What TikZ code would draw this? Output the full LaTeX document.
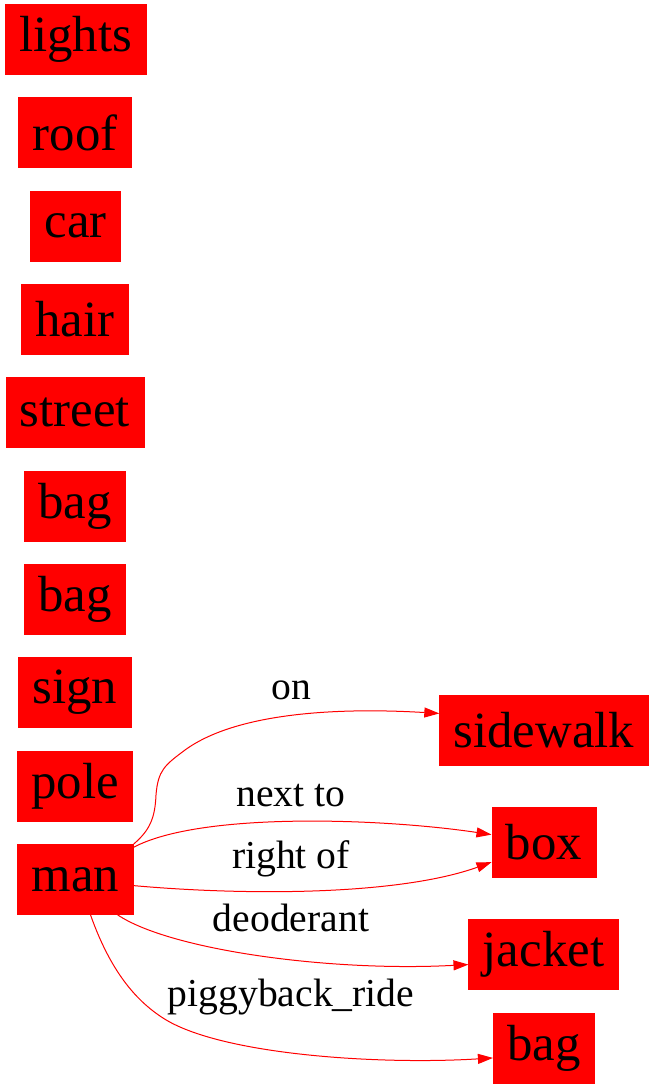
\documentclass[tikz,border=0pt]{standalone}
\usepackage{fontspec}
\setmainfont{Liberation Serif}
\usetikzlibrary{arrows.meta,positioning}
\definecolor{boxred}{HTML}{FF0000}

\begin{document}
\begin{tikzpicture}[
      x=0.5pt, y=-0.5pt,
      obj/.style={
        draw=boxred, fill=boxred, inner xsep=7pt, inner ysep=0pt,
        minimum height=35pt, font=\fontsize{25.4}{30}\selectfont
      },
      rel/.style={font=\fontsize{19.8}{24}\selectfont, inner sep=0pt},
      arrow/.style={-{Triangle[length=7.5pt,width=5pt]}, line width=0.5pt, draw=boxred}
    ]
    \useasboundingbox (0,0) rectangle (655,1088);

    % left column
    \node[obj] (lights) at (75.5,39.5) {lights};
    \node[obj] (roof) at (75,132.5) {roof};
    \node[obj] (car) at (75.5,226) {car};
    \node[obj] (hair) at (75,319) {hair};
    \node[obj] (street) at (75,412.5) {street};
    \node[obj] (bagA) at (75,506) {bag};
    \node[obj] (bagB) at (75,599) {bag};
    \node[obj] (sign) at (75,692.5) {sign};
    \node[obj] (pole) at (75,786) {pole};
    \node[obj] (man) at (75.5,879.5) {man};

    % right column
    \node[obj] (sidewalk) at (544,730) {sidewalk};
    \node[obj] (box) at (544,842) {box};
    \node[obj] (jacket) at (543.5,954) {jacket};
    \node[obj] (bagC) at (544,1048) {bag};

    % relations
    \node[rel] (lblOn) at (291,690) {on};
    \node[rel] (lblNext) at (291,796) {next to};
    \node[rel] (lblRight) at (291,859) {right of};
    \node[rel] (lblDeo) at (291,918) {deoderant};
    \node[rel] (lblPiggy) at (291,997) {piggyback\_ride};

    \draw[arrow] (man.north east) .. controls (150,830) and (155,818) .. (156,795)
      .. controls (158,770) and (165,765) .. (185,750)
      .. controls (240,710) and (350,708) .. (sidewalk.171);
    \draw[arrow] (man.29) .. controls (200,812) and (380,818) .. (box.172);
    \draw[arrow] (man.354) .. controls (250,896) and (400,895) .. (box.201);
    \draw[arrow] (man.320) .. controls (170,950) and (330,972) .. (jacket.188);
    \draw[arrow] (man.293) .. controls (110,970) and (135,1000) .. (163,1018)
      .. controls (220,1055) and (380,1065) .. (bagC.191);
  \end{tikzpicture}
\end{document}
